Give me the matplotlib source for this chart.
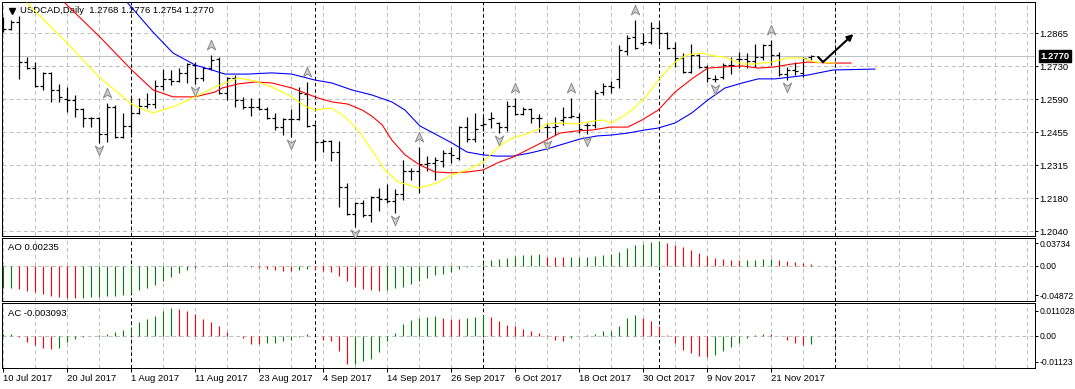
import matplotlib
matplotlib.use("Agg")
import matplotlib.pyplot as plt
from matplotlib.path import Path
from matplotlib.transforms import offset_copy, blended_transform_factory
import numpy as np

plt.rcParams['font.family'] = ['Liberation Sans', 'DejaVu Sans']
plt.rcParams['lines.scale_dashes'] = False

# ---------------- data ----------------
symbol_text = "USDCAD,Daily  1.2768 1.2776 1.2754 1.2770"
last_price = 1.2770
last_price_label = "1.2770"

opens = [1.2904, 1.2883, 1.2912, 1.2745, 1.2722, 1.2645, 1.2698, 1.2629, 1.2591, 1.2587,
         1.2549, 1.2512, 1.2512, 1.2445, 1.2558, 1.2433, 1.2479, 1.2533, 1.2562, 1.2570,
         1.2645, 1.2675, 1.2666, 1.2700, 1.2733, 1.2679, 1.2720, 1.2758, 1.2616, 1.2679,
         1.2587, 1.2558, 1.2558, 1.2549, 1.2512, 1.2474, 1.2508, 1.2508, 1.2612, 1.2483,
         1.2412, 1.2416, 1.2370, 1.2224, 1.2112, 1.2157, 1.2107, 1.2182, 1.2174, 1.2166,
         1.2195, 1.2291, 1.2291, 1.2320, 1.2324, 1.2333, 1.2366, 1.2345, 1.2474, 1.2424,
         1.2483, 1.2508, 1.2491, 1.2474, 1.2562, 1.2529, 1.2549, 1.2512, 1.2474, 1.2474,
         1.2504, 1.2516, 1.2516, 1.2483, 1.2483, 1.2620, 1.2645, 1.2675, 1.2791, 1.2850,
         1.2825, 1.2829, 1.2887, 1.2866, 1.2804, 1.2762, 1.2704, 1.2775, 1.2725, 1.2675,
         1.2683, 1.2733, 1.2758, 1.2758, 1.2750, 1.2766, 1.2816, 1.2775, 1.2695, 1.2712,
         1.2700, 1.2768]
highs = [1.2933, 1.2920, 1.2937, 1.2766, 1.2745, 1.2702, 1.2702, 1.2654, 1.2641, 1.2608,
         1.2554, 1.2516, 1.2516, 1.2574, 1.2566, 1.2533, 1.2595, 1.2595, 1.2616, 1.2670,
         1.2716, 1.2712, 1.2720, 1.2741, 1.2745, 1.2725, 1.2775, 1.2766, 1.2683, 1.2691,
         1.2600, 1.2595, 1.2595, 1.2558, 1.2533, 1.2512, 1.2549, 1.2641, 1.2662, 1.2487,
         1.2424, 1.2420, 1.2416, 1.2241, 1.2162, 1.2170, 1.2187, 1.2220, 1.2237, 1.2216,
         1.2337, 1.2303, 1.2391, 1.2353, 1.2349, 1.2378, 1.2391, 1.2479, 1.2516, 1.2533,
         1.2516, 1.2537, 1.2495, 1.2583, 1.2595, 1.2558, 1.2554, 1.2529, 1.2491, 1.2516,
         1.2558, 1.2595, 1.2533, 1.2491, 1.2629, 1.2658, 1.2666, 1.2816, 1.2858, 1.2920,
         1.2866, 1.2912, 1.2910, 1.2870, 1.2829, 1.2783, 1.2820, 1.2779, 1.2733, 1.2691,
         1.2741, 1.2766, 1.2787, 1.2783, 1.2820, 1.2820, 1.2837, 1.2787, 1.2725, 1.2745,
         1.2766, 1.2776]
lows = [1.2870, 1.2879, 1.2675, 1.2718, 1.2641, 1.2629, 1.2579, 1.2579, 1.2537, 1.2516,
        1.2474, 1.2474, 1.2408, 1.2412, 1.2428, 1.2428, 1.2433, 1.2529, 1.2554, 1.2554,
        1.2629, 1.2650, 1.2662, 1.2658, 1.2654, 1.2666, 1.2712, 1.2612, 1.2587, 1.2558,
        1.2549, 1.2520, 1.2545, 1.2508, 1.2462, 1.2441, 1.2433, 1.2504, 1.2474, 1.2341,
        1.2370, 1.2333, 1.2141, 1.2107, 1.2057, 1.2099, 1.2078, 1.2124, 1.2157, 1.2116,
        1.2170, 1.2253, 1.2199, 1.2291, 1.2253, 1.2308, 1.2324, 1.2337, 1.2412, 1.2412,
        1.2458, 1.2470, 1.2449, 1.2458, 1.2524, 1.2524, 1.2491, 1.2454, 1.2428, 1.2441,
        1.2483, 1.2512, 1.2449, 1.2445, 1.2470, 1.2608, 1.2616, 1.2637, 1.2775, 1.2800,
        1.2816, 1.2820, 1.2816, 1.2800, 1.2725, 1.2700, 1.2700, 1.2720, 1.2662, 1.2660,
        1.2675, 1.2695, 1.2720, 1.2720, 1.2725, 1.2754, 1.2733, 1.2687, 1.2670, 1.2691,
        1.2683, 1.2754]
closes = [1.2883, 1.2912, 1.2745, 1.2722, 1.2645, 1.2698, 1.2629, 1.2600, 1.2587, 1.2549,
          1.2512, 1.2512, 1.2445, 1.2558, 1.2433, 1.2479, 1.2533, 1.2562, 1.2570, 1.2645,
          1.2675, 1.2666, 1.2700, 1.2737, 1.2679, 1.2720, 1.2754, 1.2616, 1.2679, 1.2587,
          1.2558, 1.2558, 1.2549, 1.2512, 1.2474, 1.2508, 1.2508, 1.2616, 1.2479, 1.2412,
          1.2416, 1.2370, 1.2224, 1.2112, 1.2157, 1.2107, 1.2182, 1.2174, 1.2166, 1.2195,
          1.2291, 1.2291, 1.2320, 1.2324, 1.2337, 1.2366, 1.2358, 1.2474, 1.2424, 1.2466,
          1.2487, 1.2512, 1.2474, 1.2562, 1.2529, 1.2549, 1.2512, 1.2512, 1.2474, 1.2479,
          1.2516, 1.2520, 1.2466, 1.2483, 1.2616, 1.2645, 1.2641, 1.2795, 1.2845, 1.2804,
          1.2829, 1.2887, 1.2866, 1.2804, 1.2762, 1.2704, 1.2775, 1.2725, 1.2679, 1.2675,
          1.2733, 1.2733, 1.2758, 1.2750, 1.2766, 1.2816, 1.2775, 1.2695, 1.2712, 1.2708,
          1.2762, 1.2770]

# Alligator lines (bar position, price)
lips_x = [3, 8, 12, 16.25, 18.75, 21.25, 24, 26.5, 29.4, 31.5, 33.6, 36.1, 37.75, 39, 41,
          42.75, 44.4, 46.1, 47.75, 49.4, 52, 54.25, 56.1, 58, 60, 61.9, 63.4, 65, 66.75,
          68, 69.6, 71.75, 73.75, 75, 76.1, 77.75, 78.6, 80.25, 81.9, 84, 85.5, 87.4, 89,
          90.25, 91.1, 92.4, 94, 96.1, 98.1, 99.9, 101.5, 104]
lips_y = [1.2991, 1.2825, 1.2683, 1.2566, 1.2533, 1.2558, 1.2600, 1.2641, 1.2679, 1.2666,
          1.2641, 1.2600, 1.2562, 1.2545, 1.2554, 1.2516, 1.2462, 1.2378, 1.2295, 1.2245,
          1.2220, 1.2241, 1.2274, 1.2295, 1.2328, 1.2391, 1.2424, 1.2441, 1.2462, 1.2487,
          1.2491, 1.2487, 1.2499, 1.2504, 1.2491, 1.2524, 1.2545, 1.2595, 1.2670, 1.2745,
          1.2775, 1.2783, 1.2770, 1.2766, 1.2754, 1.2737, 1.2737, 1.2745, 1.2762, 1.2762,
          1.2745, 1.2741]
teeth_x = [7.75, 12.1, 16.1, 18.75, 21.25, 24, 26.5, 27.4, 29.4, 31.5, 33.6, 36.1, 37.75,
           39.4, 41.1, 43.1, 44.9, 46.1, 47.4, 48.6, 50.25, 52.1, 54, 56.1, 58.1, 60, 61.75,
           63.75, 65.5, 67.5, 69.6, 71.75, 73.75, 75.9, 78.1, 79.9, 81.9, 84, 86.1, 88.1,
           90.25, 92.4, 94.4, 96.5, 98.6, 100.6, 103.4, 106]
teeth_y = [1.2991, 1.2850, 1.2712, 1.2629, 1.2600, 1.2600, 1.2620, 1.2637, 1.2654, 1.2662,
           1.2658, 1.2637, 1.2616, 1.2595, 1.2579, 1.2570, 1.2545, 1.2520, 1.2483, 1.2420,
           1.2358, 1.2316, 1.2287, 1.2283, 1.2287, 1.2295, 1.2324, 1.2349, 1.2378, 1.2412,
           1.2449, 1.2458, 1.2462, 1.2474, 1.2474, 1.2504, 1.2545, 1.2620, 1.2675, 1.2720,
           1.2725, 1.2729, 1.2720, 1.2725, 1.2737, 1.2745, 1.2741, 1.2741]
jaw_x = [15.6, 18.75, 21.25, 24, 26.5, 27.75, 30.6, 33.6, 36.1, 39, 41.1, 43.6, 46.1, 48.6,
         50.25, 52.1, 54.25, 56.1, 58, 60, 61.75, 63.75, 65.9, 68, 70, 72.1, 74.25, 76.1,
         78.1, 80.25, 81.9, 84, 86.1, 88.1, 90.25, 92.4, 94.4, 96.5, 98.6, 100.6, 103.75, 109]
jaw_y = [1.2991, 1.2870, 1.2783, 1.2733, 1.2708, 1.2695, 1.2695, 1.2700, 1.2695, 1.2670,
         1.2658, 1.2629, 1.2608, 1.2579, 1.2545, 1.2479, 1.2441, 1.2408, 1.2370, 1.2358,
         1.2353, 1.2353, 1.2366, 1.2383, 1.2403, 1.2424, 1.2437, 1.2441, 1.2449, 1.2462,
         1.2470, 1.2491, 1.2533, 1.2587, 1.2637, 1.2658, 1.2675, 1.2675, 1.2683, 1.2691,
         1.2712, 1.2716]

fractal_up = [13, 26, 38, 52, 64, 71, 79, 96]
fractal_down = [12, 24, 36, 44, 49, 62, 68, 73, 89, 98]

ao = [-0.0337, -0.0327, -0.0347, -0.0372, -0.0397, -0.0422, -0.0451, -0.0471, -0.0486, -0.04872,
      -0.0476, -0.0473, -0.0466, -0.0456, -0.0446, -0.0441, -0.0407, -0.0362, -0.0327, -0.0288,
      -0.0223, -0.0174, -0.0104, -0.0060, -0.0035, -0.0010, -0.0003, 0.0002, 0.0004, 0.0001,
      -0.0005, -0.0015, -0.0030, -0.0045, -0.0060, -0.0074, -0.0077, -0.0060, -0.0055, -0.0060,
      -0.0074, -0.0089, -0.0149, -0.0228, -0.0312, -0.0347, -0.0362, -0.0372, -0.0357, -0.0337,
      -0.0317, -0.0273, -0.0223, -0.0184, -0.0144, -0.0119, -0.0089, -0.0050, -0.0020, -0.0005,
      0.0045, 0.0084, 0.0099, 0.0114, 0.0149, 0.0159, 0.0160, 0.0169, 0.0137, 0.0128,
      0.0127, 0.0129, 0.0133, 0.0134, 0.0142, 0.0157, 0.0172, 0.0206, 0.0265, 0.0304,
      0.0329, 0.0354, 0.03734, 0.0339, 0.0304, 0.0275, 0.0241, 0.0191, 0.0147, 0.0113,
      0.0098, 0.0088, 0.0083, 0.0085, 0.0087, 0.0098, 0.0099, 0.0088, 0.0069, 0.0059,
      0.0039, 0.00235]
ac = [0.0007, 0.0008, -0.0003, -0.0023, -0.0036, -0.0046, -0.0053, -0.0046, -0.0025, -0.0011,
      -0.0003, 0.0001, 0.0002, 0.0008, 0.0016, 0.0024, 0.0031, 0.0054, 0.0068, 0.0080,
      0.0100, 0.011028, 0.0107, 0.0100, 0.0086, 0.0068, 0.0056, 0.0041, 0.0016, 0.0001,
      -0.0009, -0.0031, -0.0033, -0.0029, -0.0027, -0.0020, -0.0016, -0.0003, 0.0008, -0.0001,
      -0.0016, -0.0020, -0.0060, -0.01123, -0.0110, -0.0100, -0.0090, -0.0062, -0.0020, 0.0013,
      0.0046, 0.0064, 0.0073, 0.0077, 0.0080, 0.0072, 0.0068, 0.0067, 0.0070, 0.0077,
      0.0084, 0.0077, 0.0060, 0.0044, 0.0040, 0.0028, 0.0019, 0.0013, 0.0004, -0.0014,
      -0.0020, -0.0007, 0.0001, 0.0004, 0.0008, 0.0020, 0.0021, 0.0040, 0.0073, 0.0084,
      0.0073, 0.0060, 0.0040, 0.0004, -0.0027, -0.0056, -0.0069, -0.0078, -0.0085, -0.0076,
      -0.0060, -0.0044, -0.0029, -0.0009, 0.0002, 0.0008, 0.0006, -0.0001, -0.0016, -0.0027,
      -0.0036, -0.003093]
ao_label = "AO 0.00235"
ac_label = "AC -0.003093"

price_ticks = [1.28650, 1.27275, 1.25900, 1.24525, 1.23150, 1.21775, 1.20400]
price_tick_labels = ['1.2865', '1.2730', '1.2590', '1.2455', '1.2315', '1.2180', '1.2040']
ao_ticks = [0.0334, 0.0, -0.0437]
ao_tick_labels = ['0.03734', '0.00', '-0.04872']
ac_ticks = [0.00995, 0.0, -0.01023]
ac_tick_labels = ['0.011028', '0.00', '-0.01123']

date_idx = [0, 8, 16, 24, 32, 40, 48, 56, 64, 72, 80, 88, 96]
date_labels = ['10 Jul 2017', '20 Jul 2017', '1 Aug 2017', '11 Aug 2017', '23 Aug 2017',
               '4 Sep 2017', '14 Sep 2017', '26 Sep 2017', '6 Oct 2017', '18 Oct 2017',
               '30 Oct 2017', '9 Nov 2017', '21 Nov 2017']
month_sep_idx = [16, 39, 60, 82, 104]

# hand-drawn arrow (bar position, price)
hook_x = [101.9, 102.5]
hook_y = [1.2766, 1.2745]
arrow_tail = (102.5, 1.2745)
arrow_head = (106.3, 1.2862)

# ---------------- layout ----------------
W, H = 1075, 389
fig = plt.figure(figsize=(W / 100, H / 100), dpi=100)
fig.patch.set_facecolor('white')

def box(l, t, r, b):
    return [l / W, 1 - b / H, (r - l) / W, (b - t) / H]

ax = fig.add_axes(box(2, 2, 1035, 236))
ax_ao = fig.add_axes(box(2, 238, 1035, 301))
ax_ac = fig.add_axes(box(2, 303, 1035, 368))

PX = 0.72
FS = 6.8
FS_SUB = 6.2
GRID = '#c0c0c0'
GREEN = '#008000'
RED = '#ff0000'
x_lo, x_hi = -0.125, 129.0
grid_x = np.arange(0, 130, 4)

for a in (ax, ax_ao, ax_ac):
    a.set_xlim(x_lo, x_hi)
    for s in a.spines.values():
        s.set_linewidth(PX)
        s.set_color('black')
    a.vlines(grid_x, 0, 1, transform=blended_transform_factory(a.transData, a.transAxes),
             colors=GRID, lw=PX, linestyles=(0, (2.9, 2.2)), zorder=0)
    a.vlines(month_sep_idx, 0, 1, transform=blended_transform_factory(a.transData, a.transAxes),
             colors='black', lw=PX, linestyles=(0, (2.5, 2.0)), zorder=1)
    a.yaxis.tick_right()
    a.tick_params(axis='y', direction='out', length=2.2, width=PX, pad=1.0,
                  labelsize=FS, colors='black')
    a.tick_params(axis='x', bottom=False, labelbottom=False)

# ---- main panel ----
ax.set_ylim(1.20198, 1.29956)
ax.set_yticks(price_ticks)
ax.set_yticklabels(price_tick_labels)
for p in price_ticks:
    ax.axhline(p, color=GRID, lw=PX, ls=(0, (2.9, 2.2)), zorder=0)
ax.axhline(last_price, color=GRID, lw=PX, zorder=1)

xi = np.arange(len(opens))
ax.vlines(xi, lows, highs, colors='black', lw=PX * 1.2, zorder=3)
ax.hlines(opens, xi - 0.36, xi, colors='black', lw=PX * 1.2, zorder=3)
ax.hlines(closes, xi, xi + 0.36, colors='black', lw=PX * 1.2, zorder=3)

ax.plot(jaw_x, jaw_y, color='#0000ff', lw=PX * 1.1, zorder=4)
ax.plot(teeth_x, teeth_y, color='#ff0000', lw=PX * 1.1, zorder=4)
ax.plot(lips_x, lips_y, color='#ffff00', lw=PX * 1.1, zorder=4)

up_verts = [(0, 1), (0.8, -0.85), (0, -0.3), (-0.8, -0.85), (0, 1)]
codes = [Path.MOVETO, Path.LINETO, Path.LINETO, Path.LINETO, Path.CLOSEPOLY]
up_marker = Path(up_verts, codes)
down_marker = Path([(vx, -vy) for vx, vy in up_verts], codes)
trans_up = offset_copy(ax.transData, fig=fig, x=0, y=10 * PX, units='points')
trans_dn = offset_copy(ax.transData, fig=fig, x=0, y=-7 * PX, units='points')
ax.plot(fractal_up, [highs[i] for i in fractal_up], ls='none', marker=up_marker, ms=7.5,
        mfc='#cdcdcd', mec='#8a8a8a', mew=0.7, transform=trans_up, zorder=5, clip_on=False)
ax.plot(fractal_down, [lows[i] for i in fractal_down], ls='none', marker=down_marker, ms=7.5,
        mfc='#cdcdcd', mec='#8a8a8a', mew=0.7, transform=trans_dn, zorder=5, clip_on=False)

ax.plot(hook_x, hook_y, color='black', lw=1.6, solid_capstyle='round', zorder=6)
ax.annotate('', xy=arrow_head, xytext=arrow_tail,
            arrowprops=dict(arrowstyle='-|>', color='black', lw=1.5, mutation_scale=9,
                            shrinkA=0, shrinkB=0), zorder=6)

# title
ax.text(18 / 1033, 1 - 8.7 / 234, symbol_text, transform=ax.transAxes, fontsize=FS,
        va='center', ha='left', color='black')
ax.plot([10 / 1033], [1 - 8.7 / 234], marker='v', ms=4.5, color='black',
        transform=ax.transAxes, clip_on=False)

# last price tag
bt = blended_transform_factory(ax.transAxes, ax.transData)
ax.text(1 + 5 / 1033, last_price, last_price_label, transform=bt, fontsize=FS,
        color='white', va='center', ha='left', fontweight='bold',
        bbox=dict(boxstyle='square,pad=0.15', fc='black', ec='black'), zorder=10,
        clip_on=False)

# ---- AO ----
ao_cols = [GREEN] + [GREEN if ao[i] > ao[i - 1] else RED for i in range(1, len(ao))]
ax_ao.set_ylim(-0.0526, 0.0413)
ax_ao.vlines(np.arange(len(ao)), 0, ao, colors=ao_cols, lw=PX * 1.1, zorder=3)
ax_ao.axhline(0, color=GRID, lw=PX, ls=(0, (2.9, 2.2)), zorder=0)
ax_ao.set_yticks(ao_ticks)
ax_ao.set_yticklabels(ao_tick_labels)
ax_ao.tick_params(axis='y', labelsize=FS_SUB)
ax_ao.text(6 / 1033, 1 - 9 / 63, ao_label, transform=ax_ao.transAxes, fontsize=FS,
           va='center', ha='left')

# ---- AC ----
ac_cols = [GREEN] + [GREEN if ac[i] > ac[i - 1] else RED for i in range(1, len(ac))]
ax_ac.set_ylim(-0.01274, 0.01313)
ax_ac.vlines(np.arange(len(ac)), 0, ac, colors=ac_cols, lw=PX * 1.1, zorder=3)
ax_ac.axhline(0, color=GRID, lw=PX, ls=(0, (2.9, 2.2)), zorder=0)
ax_ac.set_yticks(ac_ticks)
ax_ac.set_yticklabels(ac_tick_labels)
ax_ac.tick_params(axis='y', labelsize=FS_SUB)
ax_ac.text(6 / 1033, 1 - 10.5 / 65, ac_label, transform=ax_ac.transAxes, fontsize=FS,
           va='center', ha='left')

ax_ac.set_xticks(date_idx)
ax_ac.set_xticklabels(date_labels, ha='left')
ax_ac.tick_params(axis='x', bottom=True, labelbottom=True, direction='out', length=2.6,
                  width=PX, pad=1.5, labelsize=FS, colors='black')

fig.savefig('out.png', dpi=100, facecolor='white')
